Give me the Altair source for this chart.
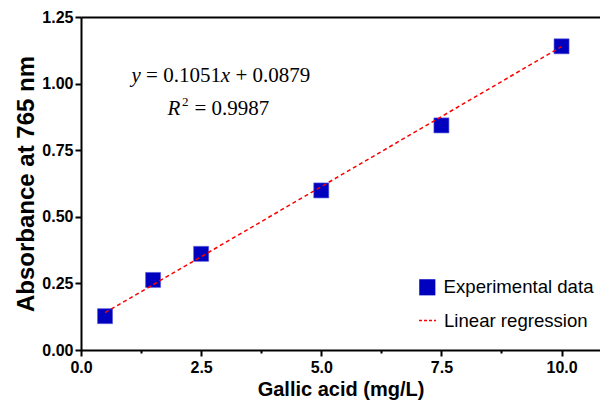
import altair as alt
import pandas as pd

# ---- data ----
conc = [0.5, 1.5, 2.5, 5.0, 7.5, 10.0]
absorb = [0.127, 0.263, 0.361, 0.599, 0.843, 1.140]
fit_x = [0.5, 10.0]
fit_y = [0.140, 1.139]
x_ticks = [0, 1.25, 2.5, 3.75, 5, 6.25, 7.5, 8.75, 10]
y_ticks = [0, 0.125, 0.25, 0.375, 0.5, 0.625, 0.75, 0.875, 1.0, 1.125, 1.25]
series = ["Experimental data", "Linear regression"]
x_title = "Gallic acid (mg/L)"
y_title = "Absorbance at 765 nm"
eq1_parts = ["y", "=", "0.1051", "x", "+", "0.0879"]
eq2_parts = ["R", "2", "=", "0.9987"]
eq1_anchor = [1.05, 1.005]
eq2_anchor = [1.80, 0.882]

pts = pd.DataFrame({"x": conc, "y": absorb, "s": series[0]})
fit = pd.DataFrame({"x": fit_x, "y": fit_y, "s": series[1]})

xscale = alt.Scale(domain=[0, 10.8], nice=False, zero=False)
yscale = alt.Scale(domain=[0, 1.25], nice=False)

SANS = "Liberation Sans"
SERIF = "Liberation Serif"

xaxis = alt.Axis(
    values=x_ticks,
    labelExpr="datum.value % 2.5 === 0 ? format(datum.value, '.1f') : ''",
    tickSize={"condition": {"test": "datum.value % 2.5 === 0", "value": 6}, "value": 3},
    tickWidth=2, tickColor="black", domainColor="black", domainWidth=2,
    labelFont=SANS, labelFontSize=16, labelFontWeight="bold", labelColor="black",
    labelPadding=3, labelOverlap=False, labelFlush=False,
    titleFont=SANS, titleFontSize=20, titleFontWeight="bold", titleColor="black",
    titlePadding=4, grid=False,
)
yaxis = alt.Axis(
    values=y_ticks,
    labelExpr="datum.value % 0.25 === 0 ? format(datum.value, '.2f') : ''",
    tickSize={"condition": {"test": "datum.value % 0.25 === 0", "value": 6}, "value": 3},
    tickWidth=2, tickColor="black", domainColor="black", domainWidth=2,
    labelFont=SANS, labelFontSize=16, labelFontWeight="bold", labelColor="black",
    labelPadding=2, labelOverlap=False, labelFlush=False,
    titleFont=SANS, titleFontSize=24, titleFontWeight="bold", titleColor="black",
    titlePadding=3, grid=False,
)

points = alt.Chart(pts).mark_point(
    shape="square", filled=True, size=225, opacity=1,
    stroke="#5555dd", strokeWidth=0.6,
).encode(
    x=alt.X("x:Q", scale=xscale, axis=xaxis, title=x_title),
    y=alt.Y("y:Q", scale=yscale, axis=yaxis, title=y_title),
    color=alt.Color(
        "s:N",
        scale=alt.Scale(domain=[series[0]], range=["#0000BF"]),
        legend=alt.Legend(
            title=None, orient="none", legendX=337, legendY=261, padding=0,
            symbolType="square", symbolSize=260, symbolFillColor="#0000BF",
            symbolStrokeWidth=0, symbolOpacity=1,
            labelFont=SANS, labelFontSize=18.6, labelColor="black", labelOffset=7,
        ),
    ),
)

line = alt.Chart(fit).mark_line(strokeDash=[4, 3], strokeWidth=1.5).encode(
    x=alt.X("x:Q", scale=xscale, axis=None),
    y=alt.Y("y:Q", scale=yscale),
    color=alt.Color(
        "s:N",
        scale=alt.Scale(domain=[series[1]], range=["#FF0000"]),
        legend=alt.Legend(
            title=None, orient="none", legendX=337, legendY=294, padding=0,
            symbolType="stroke", symbolSize=289, symbolDash=[3, 2],
            symbolStrokeWidth=1.5, symbolStrokeColor="#FF0000",
            labelFont=SANS, labelFontSize=18.6, labelColor="black", labelOffset=7,
        ),
    ),
)

# top border as an axis line
top = alt.Chart(fit).mark_point(opacity=0).encode(
    x=alt.X("x:Q", scale=xscale, axis=alt.Axis(
        orient="top", labels=False, ticks=False, title=None,
        domainColor="black", domainWidth=2, grid=False)),
)

# equation text pieces
anchor1 = pd.DataFrame({"x": [eq1_anchor[0]], "y": [eq1_anchor[1]]})
anchor2 = pd.DataFrame({"x": [eq2_anchor[0]], "y": [eq2_anchor[1]]})

def piece(df, txt, dx, italic=False, size=21, dy=0):
    return alt.Chart(df).mark_text(
        text=txt, align="left", baseline="alphabetic", dx=dx, dy=dy,
        font=SERIF, fontSize=size, fontStyle="italic" if italic else "normal",
        color="black",
    ).encode(x=alt.X("x:Q", scale=xscale, axis=None),
             y=alt.Y("y:Q", scale=yscale))

eq_layers = [
    piece(anchor1, eq1_parts[0], 0, True),
    piece(anchor1, eq1_parts[1], 14.6),
    piece(anchor1, eq1_parts[2], 31.7),
    piece(anchor1, eq1_parts[3], 89.4, True),
    piece(anchor1, eq1_parts[4], 104),
    piece(anchor1, eq1_parts[5], 121),
    piece(anchor2, eq2_parts[0], 0, True),
    piece(anchor2, eq2_parts[1], 14.5, False, 13, -9),
    piece(anchor2, eq2_parts[2], 27),
    piece(anchor2, eq2_parts[3], 44),
]

chart = alt.layer(points, line, top, *eq_layers).resolve_scale(
    color="independent"
).resolve_axis(x="independent").properties(
    width=519, height=333,
    autosize=alt.AutoSizeParams(type="none"),
    padding={"left": 73, "top": 9, "right": 0, "bottom": 58},
).configure_view(stroke=None)

chart.save("out.html", embed_options={"renderer": "svg", "actions": False})
